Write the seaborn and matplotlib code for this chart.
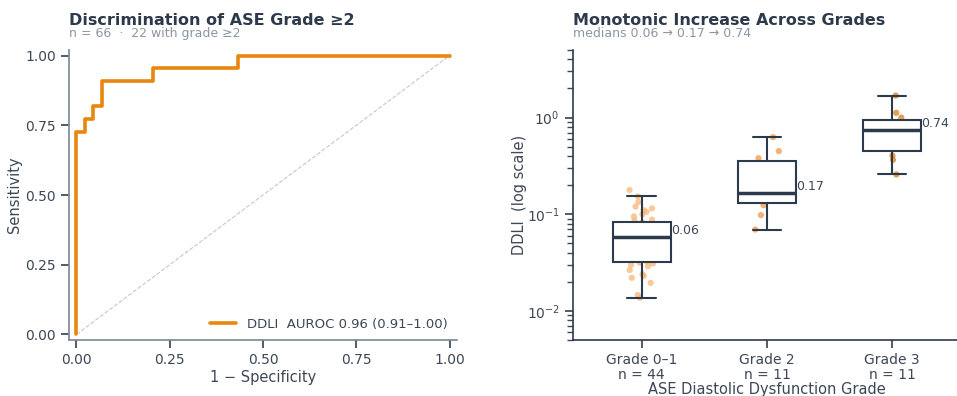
import numpy as np
import pandas as pd
import matplotlib
matplotlib.use("Agg")
import matplotlib.pyplot as plt
import seaborn as sns

# ROC curve corners (DDLI vs ASE grade >= 2)
fpr = [0.0, 0.0, 0.0227, 0.0227, 0.0455, 0.0455, 0.0682, 0.0682, 0.2045, 0.2045, 0.4318, 0.4318, 1.0]
tpr = [0.0, 0.7273, 0.7273, 0.7727, 0.7727, 0.8182, 0.8182, 0.9091, 0.9091, 0.9545, 0.9545, 1.0, 1.0]
roc_label = "DDLI  AUROC 0.96 (0.91\u20131.00)"

# DDLI values per grade group
grade01 = [0.0137, 0.0146, 0.0195, 0.022, 0.023, 0.024, 0.0265, 0.029, 0.030, 0.031, 0.0315,
           0.0325, 0.034, 0.036, 0.038, 0.041, 0.044, 0.047, 0.05, 0.053, 0.055, 0.057,
           0.059, 0.061, 0.063, 0.065, 0.068, 0.07, 0.072, 0.075, 0.077, 0.08, 0.082,
           0.086, 0.088, 0.095, 0.1, 0.106, 0.11, 0.115, 0.12, 0.134, 0.153, 0.178]
grade2 = [0.0695, 0.098, 0.124, 0.138, 0.15, 0.167, 0.2, 0.33, 0.38, 0.45, 0.627]
grade3 = [0.258, 0.366, 0.405, 0.5, 0.6, 0.742, 0.8, 0.9, 1.0, 1.12, 1.69]
groups = ["Grade 0\u20131", "Grade 2", "Grade 3"]
point_colors = ["#f7b877", "#ee9a45", "#d9801f"]

NAVY = "#2d3a4b"
TEXT = "#3d4756"
GREY = "#8c96a3"
ORANGE = "#e8870e"

df = pd.DataFrame({
    "grade": [groups[0]] * len(grade01) + [groups[1]] * len(grade2) + [groups[2]] * len(grade3),
    "ddli": grade01 + grade2 + grade3,
})

sns.set_theme(style="ticks")
plt.rcParams["font.family"] = ["DejaVu Sans"]
plt.rcParams.update({"xtick.color": TEXT, "ytick.color": TEXT, "axes.labelcolor": TEXT,
                     "xtick.labelsize": 10, "ytick.labelsize": 10, "axes.labelsize": 10.5})

fig = plt.figure(figsize=(9.57, 3.96), dpi=100)
ax1 = fig.add_axes([0.0721, 0.1414, 0.4054, 0.7323])
ax2 = fig.add_axes([0.5987, 0.1414, 0.4054, 0.7323])

# --- ROC ---
ax1.plot([0, 1], [0, 1], ls="--", lw=0.8, color="#c4c8ce", zorder=1)
sns.lineplot(x=fpr, y=tpr, ax=ax1, color=ORANGE, lw=2.6, sort=False,
             estimator=None, label=roc_label, zorder=3)
ax1.set_xlim(-0.02, 1.02)
ax1.set_ylim(-0.02, 1.02)
ax1.set_xticks([0, 0.25, 0.5, 0.75, 1.0])
ax1.set_yticks([0, 0.25, 0.5, 0.75, 1.0])
ax1.xaxis.set_major_formatter(matplotlib.ticker.FormatStrFormatter("%.2f"))
ax1.yaxis.set_major_formatter(matplotlib.ticker.FormatStrFormatter("%.2f"))
ax1.set_xlabel("1 \u2212 Specificity", labelpad=2)
ax1.set_ylabel("Sensitivity", labelpad=2)
ax1.legend(loc="lower right", frameon=False, fontsize=9.5, labelcolor=TEXT,
           handlelength=2.0, borderaxespad=0.3)
for s in ["left", "bottom"]:
    ax1.spines[s].set_color("#7d8591")
    ax1.spines[s].set_linewidth(1.2)
sns.despine(ax=ax1)
ax1.text(0, 1.076, "Discrimination of ASE Grade \u22652", transform=ax1.transAxes,
         fontsize=11.5, fontweight="bold", color=NAVY, va="bottom")
ax1.text(0, 1.036, "n = 66  \u00b7  22 with grade \u22652", transform=ax1.transAxes,
         fontsize=9, color=GREY, va="bottom")

# --- Box + strip ---
sns.boxplot(data=df, x="grade", y="ddli", order=groups, width=0.46, showfliers=False,
            color="white", linewidth=1.5, linecolor=NAVY, ax=ax2,
            medianprops={"linewidth": 2.5, "color": NAVY})
for p in ax2.patches:
    p.set_zorder(2)
for ln in ax2.lines:
    ln.set_zorder(3)
n_before = len(ax2.collections)
sns.stripplot(data=df, x="grade", y="ddli", hue="grade", palette=point_colors,
              order=groups, jitter=0.1, size=4.5, alpha=0.75, legend=False, ax=ax2)
for c in ax2.collections[n_before:]:
    c.set_zorder(1)
ax2.set_yscale("log")
ax2.set_ylim(0.005, 5)
ax2.set_xlim(-0.55, 2.55)
meds = [np.median(g) for g in [grade01, grade2, grade3]]
for i, m in enumerate(meds):
    ax2.text(i + 0.235, m, f"{m:.2f}", fontsize=9, color=TEXT, va="bottom", ha="left", zorder=4)
ax2.set_xticks(range(3))
ax2.set_xticklabels([f"{g}\nn = {len(v)}" for g, v in zip(groups, [grade01, grade2, grade3])],
                    linespacing=1.05)
ax2.set_xlabel("ASE Diastolic Dysfunction Grade", labelpad=0)
ax2.set_ylabel("DDLI  (log scale)", labelpad=0)
for s in ["left", "bottom"]:
    ax2.spines[s].set_color(NAVY)
    ax2.spines[s].set_linewidth(1.2)
sns.despine(ax=ax2)
ax2.text(0, 1.076, "Monotonic Increase Across Grades", transform=ax2.transAxes,
         fontsize=11.5, fontweight="bold", color=NAVY, va="bottom")
ax2.text(0, 1.036, "medians " + " \u2192 ".join(f"{m:.2f}" for m in meds),
         transform=ax2.transAxes, fontsize=9, color=GREY, va="bottom")

fig.savefig("out.png", dpi=100)
